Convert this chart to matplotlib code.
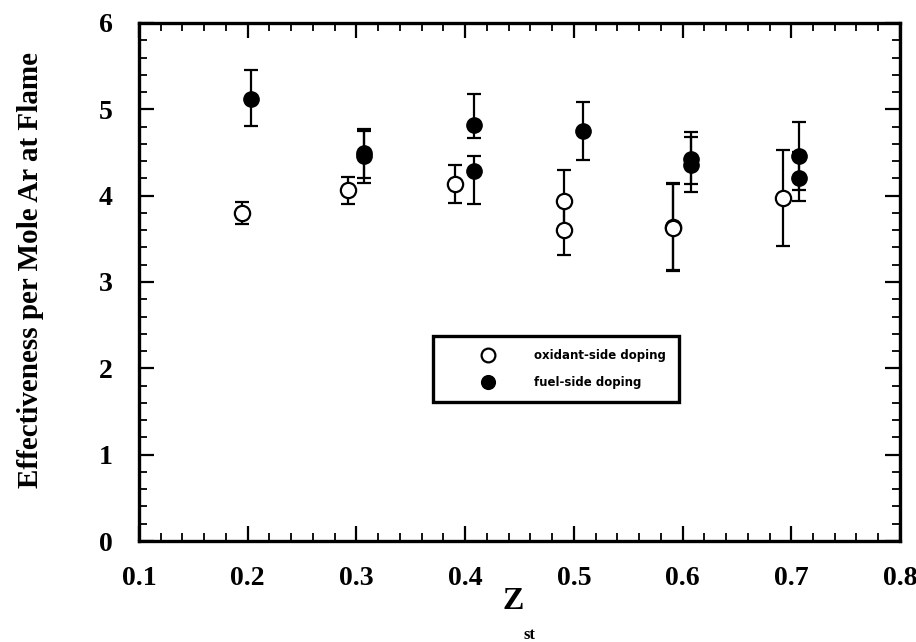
import numpy as np
import matplotlib
matplotlib.use("Agg")
import matplotlib.pyplot as plt
from matplotlib.ticker import MultipleLocator

plt.rcParams['font.family'] = ['Liberation Serif', 'DejaVu Serif']

# oxidant-side doping (open circles)
ox_z = [0.195, 0.292, 0.391, 0.491, 0.491, 0.591, 0.591, 0.692]
ox_eff = [3.80, 4.07, 4.13, 3.94, 3.60, 3.64, 3.62, 3.97]
ox_err_lo = [0.13, 0.17, 0.22, 0.30, 0.29, 0.50, 0.49, 0.55]
ox_err_hi = [0.13, 0.15, 0.23, 0.36, 0.30, 0.51, 0.51, 0.56]

# fuel-side doping (filled circles)
fu_z = [0.203, 0.307, 0.307, 0.408, 0.408, 0.508, 0.608, 0.608, 0.707, 0.707]
fu_eff = [5.12, 4.49, 4.46, 4.82, 4.28, 4.75, 4.43, 4.35, 4.46, 4.20]
fu_err_lo = [0.31, 0.28, 0.31, 0.15, 0.38, 0.34, 0.29, 0.31, 0.39, 0.26]
fu_err_hi = [0.33, 0.28, 0.29, 0.36, 0.18, 0.33, 0.31, 0.33, 0.39, 0.30]

fig = plt.figure(figsize=(9.16, 6.42), dpi=100)
ax = fig.add_axes([0.1517, 0.1573, 0.8308, 0.8069])

eb1 = ax.errorbar(ox_z, ox_eff, yerr=[ox_err_lo, ox_err_hi], fmt='o', mfc='white',
                  mec='black', ms=11, mew=1.6, ecolor='black', elinewidth=1.6,
                  capsize=5, capthick=1.6, zorder=3)
eb2 = ax.errorbar(fu_z, fu_eff, yerr=[fu_err_lo, fu_err_hi], fmt='o', mfc='black',
                  mec='black', ms=11, ecolor='black', elinewidth=1.6,
                  capsize=5, capthick=1.6, zorder=3)

ax.set_xlim(0.1, 0.8)
ax.set_ylim(0, 6)
ax.xaxis.set_major_locator(MultipleLocator(0.1))
ax.xaxis.set_minor_locator(MultipleLocator(0.02))
ax.yaxis.set_major_locator(MultipleLocator(1))
ax.yaxis.set_minor_locator(MultipleLocator(0.2))
ax.tick_params(which='both', direction='in', top=True, right=True)
ax.tick_params(which='major', length=11, width=1.6, labelsize=20)
ax.tick_params(which='minor', length=6, width=1.3)
ax.tick_params(axis='x', pad=18)
ax.tick_params(axis='y', pad=19)
for lab in ax.get_xticklabels() + ax.get_yticklabels():
    lab.set_fontweight('bold')
for s in ax.spines.values():
    s.set_linewidth(2.4)

ax.set_ylabel('Effectiveness per Mole Ar at Flame', fontsize=21, fontweight='bold')
ax.yaxis.set_label_coords(-0.125, 0.523)
fig.text(0.560, 0.051, 'Z', fontsize=23, fontweight='bold', ha='center', va='baseline')
fig.text(0.571, 0.004, 'st', fontsize=12, fontweight='bold', ha='left', va='baseline')

leg = ax.legend(handles=[eb1[0], eb2[0]], labels=['oxidant-side doping', 'fuel-side doping'],
                loc='center', bbox_to_anchor=(0.548, 0.332),
                frameon=True, fancybox=False, edgecolor='black',
                framealpha=1, prop={'family': 'DejaVu Sans', 'weight': 'bold', 'size': 8.5},
                handletextpad=0.4, borderpad=1.1, labelspacing=1.25,
                handlelength=7.1, markerscale=0.9)
leg.get_frame().set_linewidth(2.4)

fig.savefig('out.png', dpi=100)
